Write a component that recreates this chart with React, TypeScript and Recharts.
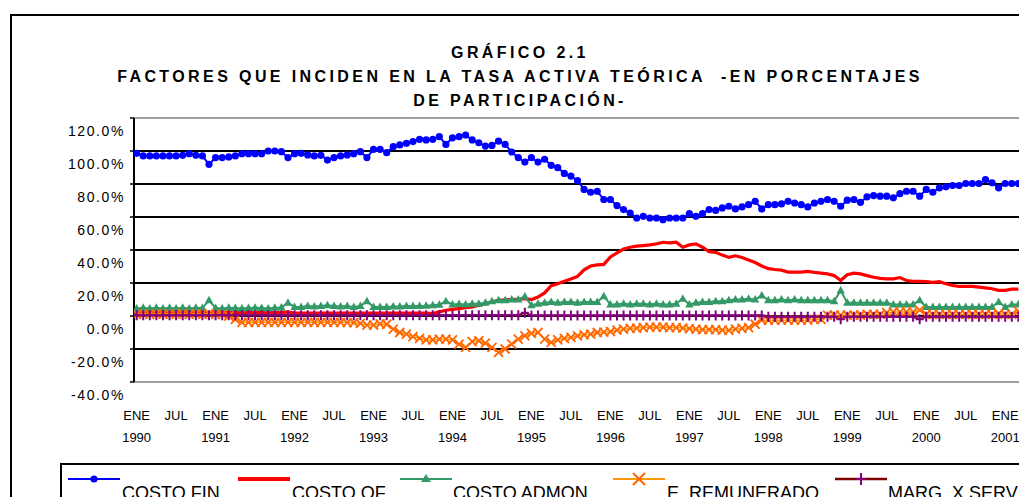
import React from 'react';
import { LineChart, Line, XAxis, YAxis, CartesianGrid, ReferenceArea } from 'recharts';

// ---- data (monthly, ENE 1990 .. MAR 2001) ----
const years = ['1990', '1991', '1992', '1993', '1994', '1995', '1996', '1997', '1998', '1999', '2000', '2001'];
const monthTickLabels = ['ENE', 'JUL'];
const yTicks = [-40, -20, 0, 20, 40, 60, 80, 100, 120];
const gridValues = [-20, 0, 20, 40, 60, 80, 100];

const costoFin = [
  98.6, 97, 97, 97, 97, 97, 97, 97.4, 98.4, 97.4, 97, 91.9,
  96, 96, 96.4, 97, 98.4, 98.4, 98.4, 98.4, 100, 100, 99.6, 96,
  98.4, 98.6, 97.6, 97, 97.4, 94.5, 96, 97, 97.6, 98.4, 99.6, 96,
  101, 101, 99, 102.6, 103.7, 104.7, 105.7, 107.1, 106.7, 107.1, 108.7, 104,
  108, 108.7, 109.7, 106.7, 105, 103, 103.4, 106, 104, 99.4, 96, 93.3,
  96, 93.3, 95, 91.3, 89.9, 86.4, 84.8, 82, 76.7, 75, 75.6, 70.6,
  70.6, 66.9, 64.5, 62.4, 59.4, 60.4, 59.4, 59.4, 58.4, 59.4, 59.4, 59.4,
  62, 60.4, 62, 64.5, 64, 65.5, 66.5, 64.9, 66.1, 67.5, 69.5, 64.9,
  67.5, 67.5, 67.9, 69.5, 68.5, 67.5, 66.1, 68.5, 69.5, 70.6, 69.5, 66.5,
  70.2, 70.6, 68.9, 72.2, 73, 72.6, 72.6, 71.6, 74.2, 75.6, 75.6, 72.6,
  76.7, 75, 77.7, 78.3, 79.1, 79.1, 80.3, 80.3, 80.3, 82.7, 80.7, 77.7,
  80.3, 80.3, 80.3,
];

const costoOf = [
  2, 2, 2, 2, 2, 2, 2, 2, 2, 2, 2, 2,
  2, 2, 2, 2, 2, 2, 2, 2, 2, 2, 2, 2.5,
  1.8, 1.8, 1.8, 1.8, 1.8, 1.8, 1.8, 1.8, 1.8, 1.8, 1.8, 1.8,
  1.8, 1.8, 1.8, 1.8, 1.8, 1.8, 1.8, 1.8, 1.8, 1.5, 2.5, 3.5,
  4, 4.5, 5, 5.5, 6.5, 7.5, 8.5, 9.5, 9.8, 10, 10.2, 10.5,
  10, 11.5, 14, 18.4, 19.6, 21, 22.4, 24, 28, 30.3, 31, 31.3,
  35.8, 38.3, 40.6, 41.7, 42.3, 42.7, 43.1, 43.7, 44.7, 44.3, 44.7, 41.7,
  43.1, 43.7, 41.7, 39, 38.6, 36.9, 35.5, 36.5, 35.5, 34, 32.4, 30.3,
  28.7, 28.2, 27.8, 26.6, 26.6, 26.6, 27, 26.4, 26, 25.5, 24.5, 21.5,
  25, 26, 25.5, 24.5, 23.5, 22.8, 22.5, 22.5, 23.3, 21.5, 21, 21,
  20.8, 20.4, 20.8, 19.5, 18.5, 17.9, 17.9, 17.9, 17.5, 17, 16.5, 15.5,
  15.5, 16.3, 16.3,
];

const costoAdmon = [
  4.5, 5, 4.5, 5, 4.5, 5, 4.5, 5, 4.5, 5, 4.8, 9.5,
  4.8, 4.5, 5, 4.8, 4.5, 4.8, 5, 4.8, 4.5, 5, 5.2, 8,
  5.5, 5.5, 6, 5.8, 6, 6.5, 6, 5.8, 6, 5.5, 6, 9,
  5.5, 5.5, 5.5, 5.8, 5.8, 6, 6, 6, 6.2, 6.5, 6.8, 9,
  7, 7.2, 7, 7.5, 7.5, 8, 9, 9.5, 9.5, 10, 10, 11.8,
  6.5, 7.5, 8, 8.5, 8, 8.5, 8.5, 8, 8.5, 8.5, 8.5, 12,
  7, 7, 7.5, 7, 7.5, 7.5, 7, 7.5, 7, 7, 7.5, 10.5,
  7, 8, 8.5, 8.5, 9, 9, 9.5, 10, 10, 10.5, 10, 12.5,
  9.5, 9.5, 10, 9.5, 10, 9.5, 9.5, 9.5, 9.5, 9.5, 9, 15.4,
  8, 8, 8, 8, 8, 8, 8, 7, 7, 7, 7, 9.5,
  5.5, 5.5, 5.5, 5.5, 5.5, 5.5, 5.5, 5.5, 5.5, 5.5, 5.5, 8.5,
  5.5, 7, 7,
];

const eRemunerado = [
  1, 1.5, 1, 1.5, 1, 1.5, 1, 1.5, 1, 1.5, 1, 1.5,
  1, 1, 0, -2, -3.8, -3.8, -3.8, -3.8, -3.8, -3.8, -3.8, -3.8,
  -3.8, -3.8, -3.8, -3.8, -3.8, -3.8, -3.8, -3.8, -4, -4, -4.5, -5.5,
  -5.5, -4.8, -5, -8, -10, -11, -12.5, -13.5, -14.5, -14.5, -14, -14,
  -14.5, -17, -19, -15.5, -15, -16.5, -19, -22, -20, -17, -14, -12,
  -10.5, -10, -14, -16, -14.5, -13.5, -13, -12, -11.5, -11, -10, -9.8,
  -9.5, -8.5, -8, -7.5, -7.3, -7, -6.8, -6.8, -6.8, -7, -7, -7.3,
  -7.7, -8, -8.2, -8.2, -8.2, -8.5, -8.7, -8, -7.5, -7, -5, -2.5,
  -2.5, -2.5, -2.5, -2.5, -2.5, -2.5, -2.5, -2, -2, 0.5, 0.5, 0.5,
  0.5, 0.5, 0.5, 1, 1, 1, 2, 2.5, 2.5, 2.5, 2.5, 3.5,
  1, 1, 1, 1, 1, 1, 1, 1, 1, 1, 1, 1.5,
  1, 1, 3,
];

const margXServ = [
  0.5, 0.5, 0.5, 0.5, 0.5, 0.5, 0.5, 0.5, 0.5, 0.5, 0.5, 0.5,
  0.5, 0.5, 0.5, 0.5, 0.5, 0.5, 0.5, 0.5, 0.5, 0.5, 0.5, 0.5,
  0.5, 0.5, 0.5, 0.5, 0.5, 0.5, 0.5, 0.5, 0.5, 0.5, 0.5, 0.5,
  0.5, 0.5, 0.5, 0.5, 0.5, 0.5, 0.5, 0.5, 0.5, 0.5, 0.5, 0.5,
  0.5, 0.5, 0.5, 0.5, 0.5, 0.5, 0.5, 0.5, 0.5, 0.5, 0.5, 2,
  0.3, 0.3, 0.3, 0.3, 0.3, 0.3, 0.3, 0.3, 0.3, 0.3, 0.3, 0.3,
  0.3, 0.3, 0.3, 0.3, 0.3, 0.3, 0.3, 0.3, 0.3, 0.3, 0.3, 0.3,
  0.3, 0.3, 0.3, 0.3, 0.3, 0.3, 0.3, 0.3, 0.3, 0.3, 0.3, 0.3,
  -0.5, -0.5, -0.5, -0.5, -0.5, -0.5, -0.5, -0.5, -0.5, -0.5, -0.5, -2,
  -0.5, -0.5, -0.5, -0.5, -0.5, -0.5, -0.5, -0.5, -0.5, -0.5, -0.5, -2,
  -0.5, -0.5, -0.5, -0.5, -0.5, -0.5, -0.5, -0.5, -0.5, -0.5, -0.5, -0.5,
  -0.5, -0.5, -0.5,
];

const seriesNames = ['COSTO FIN', 'COSTO OF', 'COSTO ADMON', 'E. REMUNERADO', 'MARG. X SERV'];

const data = costoFin.map((v, i) => ({
  idx: i,
  fin: v,
  of: costoOf[i],
  admon: costoAdmon[i],
  erem: eRemunerado[i],
  marg: margXServ[i],
}));

const xTicks = data.filter((d) => d.idx % 6 === 0).map((d) => d.idx);

const FONT = '"Liberation Sans", Arial, Helvetica, sans-serif';

// ---- marker shapes ----
const BlueDot = (p: any) => {
  const { cx, cy, index } = p;
  if (cx == null || cy == null) return <g key={index} />;
  return <circle key={index} cx={cx} cy={cy} r={3.6} fill="#0000FF" stroke="none" />;
};
const TriDot = (p: any) => {
  const { cx, cy, index } = p;
  if (cx == null || cy == null) return <g key={index} />;
  return <path key={index} d={`M${cx},${cy - 4.5} L${cx + 4.2},${cy + 3} L${cx - 4.2},${cy + 3} Z`} fill="#339966" />;
};
const XDot = (p: any) => {
  const { cx, cy, index } = p;
  if (cx == null || cy == null) return <g key={index} />;
  const s = 4.5;
  return (
    <path key={index} d={`M${cx - s},${cy - s} L${cx + s},${cy + s} M${cx - s},${cy + s} L${cx + s},${cy - s}`} stroke="#FF6600" strokeWidth={1.8} fill="none" />
  );
};
const PlusDot = (p: any) => {
  const { cx, cy, index } = p;
  if (cx == null || cy == null) return <g key={index} />;
  return (
    <path key={index} d={`M${cx - 4},${cy} L${cx + 4},${cy} M${cx},${cy - 5} L${cx},${cy + 5}`} stroke="#800080" strokeWidth={2} fill="none" />
  );
};

// ---- axis ticks ----
const YTick = (p: any) => {
  const { x, y, payload } = p;
  return (
    <text x={x} y={y + 13} textAnchor="end" dominantBaseline="central" fontSize={14} fill="#000" fontFamily={FONT} letterSpacing={1.6}>
      {`${Number(payload.value).toFixed(1)}%`}
    </text>
  );
};
const XTick = (p: any) => {
  const { x, y, payload } = p;
  const v = Number(payload.value);
  const isJan = v % 12 === 0;
  return (
    <g>
      <text x={x} y={y + 33} textAnchor="middle" dominantBaseline="central" fontSize={13} fill="#000" fontFamily={FONT}>
        {isJan ? monthTickLabels[0] : monthTickLabels[1]}
      </text>
      {isJan && (
        <text x={x} y={y + 55} textAnchor="middle" dominantBaseline="central" fontSize={13} fill="#000" fontFamily={FONT}>
          {years[v / 12]}
        </text>
      )}
    </g>
  );
};

const titleStyle: React.CSSProperties = {
  position: 'absolute',
  left: 12,
  width: 1000,
  textAlign: 'center',
  fontFamily: FONT,
  fontWeight: 'bold',
  fontSize: 16,
  letterSpacing: 3.4,
  lineHeight: '20px',
  whiteSpace: 'pre',
  color: '#000',
};

export default function App() {
  return (
    <div style={{ position: 'relative', width: 1019, height: 489, overflow: 'hidden', background: '#fff' }}>
      <div style={{ position: 'absolute', left: 2, top: 6, width: 1100, height: 600, border: '2px solid #000', boxSizing: 'border-box' }} />
      <div style={{ ...titleStyle, top: 35 }}>GRÁFICO 2.1</div>
      <div style={{ ...titleStyle, top: 59 }}>FACTORES QUE INCIDEN EN LA TASA ACTIVA TEÓRICA  -EN PORCENTAJES</div>
      <div style={{ ...titleStyle, top: 83 }}>DE PARTICIPACIÓN-</div>
      <div style={{ position: 'absolute', left: 0, top: 0 }}>
        <LineChart width={1019} height={489} data={data} margin={{ top: 110, right: 6, left: 0, bottom: 55 }}>
          <CartesianGrid horizontal vertical={false} horizontalValues={gridValues} stroke="#000" strokeWidth={2} strokeOpacity={1} />
          <ReferenceArea x1={-0.4} x2={134.4} y1={-40} y2={120} fill="none" stroke="#808080" strokeWidth={1.5} ifOverflow="visible" />
          <XAxis
            type="number"
            dataKey="idx"
            domain={[-0.4, 134.4]}
            allowDataOverflow
            ticks={xTicks}
            interval={0}
            axisLine={false}
            tickLine={false}
            tickSize={0}
            tickMargin={0}
            height={60}
            tick={<XTick />}
          />
          <YAxis
            type="number"
            domain={[-40, 120]}
            ticks={yTicks}
            interval={0}
            allowDataOverflow
            width={126}
            axisLine={{ stroke: '#000', strokeWidth: 2 }}
            tickLine={{ stroke: '#000', strokeWidth: 1.5 }}
            tickSize={4}
            tickMargin={5}
            tick={<YTick />}
          />
          <Line dataKey="fin" name={seriesNames[0]} stroke="#0000FF" strokeWidth={2} dot={<BlueDot />} isAnimationActive={false} />
          <Line dataKey="of" name={seriesNames[1]} stroke="#FF0000" strokeWidth={3.2} dot={false} isAnimationActive={false} />
          <Line dataKey="admon" name={seriesNames[2]} stroke="#339966" strokeWidth={2} dot={<TriDot />} isAnimationActive={false} />
          <Line dataKey="erem" name={seriesNames[3]} stroke="#FF9900" strokeWidth={1.5} dot={<XDot />} isAnimationActive={false} />
          <Line dataKey="marg" name={seriesNames[4]} stroke="#800000" strokeWidth={2} dot={<PlusDot />} isAnimationActive={false} />
        </LineChart>
      </div>
      <div style={{ position: 'absolute', left: 52, top: 455, width: 1100, height: 200, border: '2px solid #000', boxSizing: 'border-box' }} />
      <svg style={{ position: 'absolute', left: 0, top: 455 }} width={1019} height={40}>
        <g fontFamily={FONT} fontSize={18} fill="#000">
          <line x1={60} x2={112} y1={16} y2={16} stroke="#0000FF" strokeWidth={2} />
          <circle cx={86} cy={16} r={3.6} fill="#0000FF" />
          <text x={114} y={36}>{seriesNames[0]}</text>

          <line x1={230} x2={282} y1={16} y2={16} stroke="#FF0000" strokeWidth={4} />
          <text x={284} y={36}>{seriesNames[1]}</text>

          <line x1={392} x2={444} y1={16} y2={16} stroke="#339966" strokeWidth={2} />
          <path d={`M418,${16 - 5} L423,${16 + 3} L413,${16 + 3} Z`} fill="#339966" />
          <text x={445} y={36}>{seriesNames[2]}</text>

          <line x1={605} x2={657} y1={16} y2={16} stroke="#FF9900" strokeWidth={2} />
          <path d="M625,10 L637,22 M625,22 L637,10" stroke="#FF6600" strokeWidth={2} />
          <text x={659} y={36}>{seriesNames[3]}</text>

          <line x1={827} x2={879} y1={16} y2={16} stroke="#800000" strokeWidth={2.5} />
          <path d="M848,16 L858,16 M853,10 L853,22" stroke="#800080" strokeWidth={2} />
          <text x={880} y={36}>{seriesNames[4]}</text>
        </g>
      </svg>
    </div>
  );
}
